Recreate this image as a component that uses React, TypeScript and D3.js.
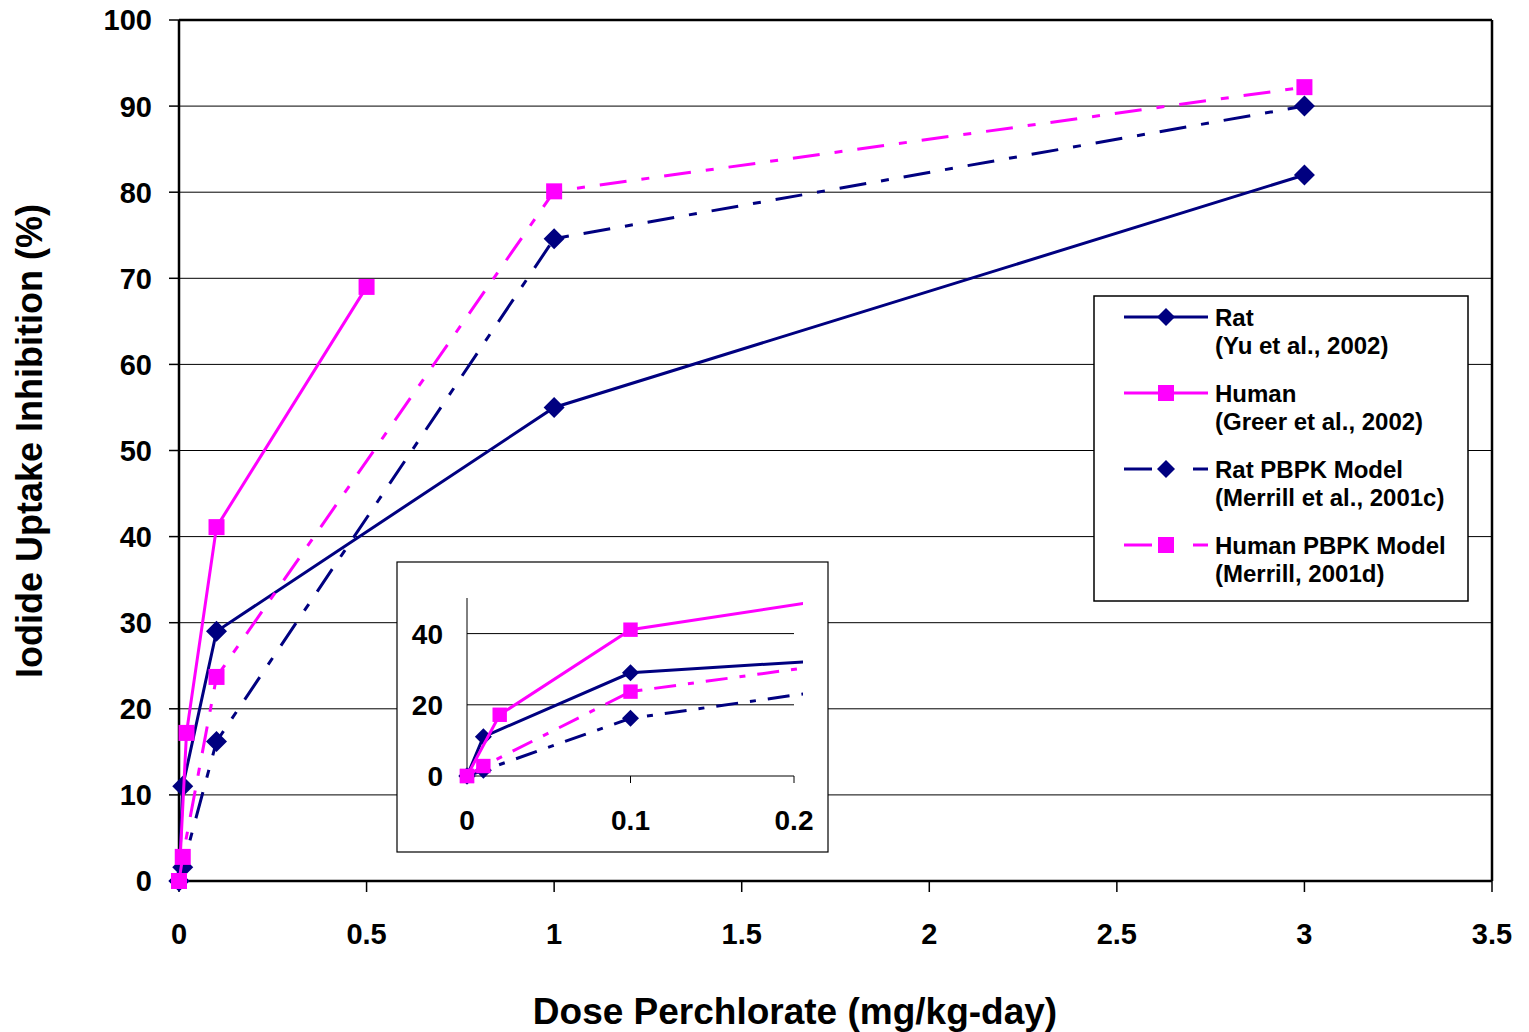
import React from "react";
import * as d3 from "d3";

const NAVY = "#000080";
const MAGENTA = "#FF00FF";

const ratDose = [0, 0.01, 0.1, 1, 3];
const ratInhib = [0, 11, 29, 55, 82];
const humanDose = [0, 0.02, 0.1, 0.5];
const humanInhib = [0, 17.2, 41.1, 69];
const ratModelDose = [0, 0.01, 0.1, 1, 3];
const ratModelInhib = [0, 1.6, 16.2, 74.6, 90];
const humanModelDose = [0, 0.01, 0.1, 1, 3];
const humanModelInhib = [0, 2.8, 23.7, 80.1, 92.2];

const xTicks = [0, 0.5, 1, 1.5, 2, 2.5, 3, 3.5];
const yTicks = [0, 10, 20, 30, 40, 50, 60, 70, 80, 90, 100];
const insetXTicks = [0, 0.1, 0.2];
const insetYTicks = [0, 20, 40];

const legendTitles = ["Rat", "Human", "Rat PBPK Model", "Human PBPK Model"];
const legendRefs = ["(Yu et al., 2002)", "(Greer et al., 2002)", "(Merrill et al., 2001c)", "(Merrill, 2001d)"];

type Series = { xs: number[]; ys: number[]; color: string; marker: "diamond" | "square"; dashed: boolean };

const series: Series[] = [
  { xs: ratDose, ys: ratInhib, color: NAVY, marker: "diamond", dashed: false },
  { xs: humanDose, ys: humanInhib, color: MAGENTA, marker: "square", dashed: false },
  { xs: ratModelDose, ys: ratModelInhib, color: NAVY, marker: "diamond", dashed: true },
  { xs: humanModelDose, ys: humanModelInhib, color: MAGENTA, marker: "square", dashed: true },
];

const DASH = "27,15,8,15";
const FONT = "'Liberation Sans', Arial, sans-serif";

function Marker({ x, y, kind, color, size }: { x: number; y: number; kind: string; color: string; size: number }) {
  if (kind === "diamond") {
    const s = size / 2;
    return <path d={`M${x},${y - s}L${x + s},${y}L${x},${y + s}L${x - s},${y}Z`} fill={color} />;
  }
  const s = size * 0.4;
  return <rect x={x - s} y={y - s} width={2 * s} height={2 * s} fill={color} />;
}

export default function App() {
  const x = d3.scaleLinear().domain([0, 3.5]).range([179, 1492]);
  const y = d3.scaleLinear().domain([0, 100]).range([881, 20]);

  const ix = d3.scaleLinear().domain([0, 0.2]).range([467, 794]);
  const iy = d3.scaleLinear().domain([0, 50]).range([776, 598]);

  const line = (sx: d3.ScaleLinear<number, number>, sy: d3.ScaleLinear<number, number>) =>
    d3
      .line<[number, number]>()
      .x((d) => sx(d[0]))
      .y((d) => sy(d[1]));

  const mainLine = line(x, y);
  const insetLine = line(ix, iy);

  const legX = 1094, legY = 296, legW = 374, legH = 305;
  const rowY = [317, 393, 469, 545];

  return (
    <svg width={1529} height={1032} style={{ position: "absolute", left: 0, top: 0, background: "#fff" }} fontFamily={FONT}>
      <rect x={0} y={0} width={1529} height={1032} fill="#fff" />
      {/* gridlines */}
      {yTicks.slice(1).map((t) => (
        <line key={t} x1={179} x2={1492} y1={y(t)} y2={y(t)} stroke="#000" strokeWidth={1} />
      ))}
      {/* plot border */}
      <line x1={179} x2={1492} y1={20} y2={20} stroke="#000" strokeWidth={2.5} />
      <line x1={1492} x2={1492} y1={20} y2={881} stroke="#000" strokeWidth={2.5} />
      {/* axes */}
      <line x1={179} x2={179} y1={20} y2={881} stroke="#000" strokeWidth={2.5} />
      <line x1={179} x2={1492} y1={881} y2={881} stroke="#000" strokeWidth={2.5} />
      {yTicks.map((t) => (
        <g key={t}>
          <line x1={169} x2={179} y1={y(t)} y2={y(t)} stroke="#000" strokeWidth={1.5} />
          <text x={152} y={y(t)} dy="0.36em" textAnchor="end" fontSize={29} fontWeight="bold">
            {t}
          </text>
        </g>
      ))}
      {xTicks.map((t) => (
        <g key={t}>
          <line x1={x(t)} x2={x(t)} y1={881} y2={892} stroke="#000" strokeWidth={1.5} />
          <text x={x(t)} y={944} textAnchor="middle" fontSize={29} fontWeight="bold">
            {t}
          </text>
        </g>
      ))}
      <text x={795} y={1024} textAnchor="middle" fontSize={37} fontWeight="bold">
        Dose Perchlorate (mg/kg-day)
      </text>
      <text transform="translate(42,441) rotate(-90)" textAnchor="middle" fontSize={36} fontWeight="bold">
        Iodide Uptake Inhibition (%)
      </text>

      {/* main series */}
      {series.map((s, i) => {
        const pts = s.xs.map((v, j) => [v, s.ys[j]] as [number, number]);
        return (
          <g key={i}>
            <path
              d={mainLine(pts) || ""}
              fill="none"
              stroke={s.color}
              strokeWidth={3}
              strokeDasharray={s.dashed ? DASH : undefined}
            />
            {pts.map((p, j) => (
              <Marker key={j} x={x(p[0])} y={y(p[1])} kind={s.marker} color={s.color} size={s.marker === "diamond" ? 21 : 20} />
            ))}
          </g>
        );
      })}

      {/* legend */}
      <rect x={legX} y={legY} width={legW} height={legH} fill="#fff" stroke="#000" strokeWidth={1.5} />
      {series.map((s, i) => (
        <g key={i}>
          {s.dashed ? (
            <>
              <line x1={1124} x2={1152} y1={rowY[i]} y2={rowY[i]} stroke={s.color} strokeWidth={3} />
              <line x1={1193} x2={1208} y1={rowY[i]} y2={rowY[i]} stroke={s.color} strokeWidth={3} />
            </>
          ) : (
            <line x1={1124} x2={1208} y1={rowY[i]} y2={rowY[i]} stroke={s.color} strokeWidth={3} />
          )}
          <Marker x={1166} y={rowY[i]} kind={s.marker} color={s.color} size={s.marker === "diamond" ? 18 : 20} />
          <text x={1215} y={rowY[i] + 9} fontSize={24} fontWeight="bold">
            {legendTitles[i]}
          </text>
          <text x={1215} y={rowY[i] + 37} fontSize={24} fontWeight="bold">
            {legendRefs[i]}
          </text>
        </g>
      ))}

      {/* inset */}
      <rect x={397} y={562} width={431} height={290} fill="#fff" stroke="#000" strokeWidth={1.2} />
      {insetYTicks.slice(1).map((t) => (
        <line key={t} x1={467} x2={794} y1={iy(t)} y2={iy(t)} stroke="#000" strokeWidth={1} />
      ))}
      <line x1={467} x2={467} y1={598} y2={776} stroke="#000" strokeWidth={1} />
      <line x1={467} x2={794} y1={776} y2={776} stroke="#000" strokeWidth={1} />
      {insetXTicks.map((t) => (
        <g key={t}>
          <line x1={ix(t)} x2={ix(t)} y1={776} y2={783} stroke="#000" strokeWidth={1} />
          <text x={ix(t)} y={830} textAnchor="middle" fontSize={28} fontWeight="bold">
            {t}
          </text>
        </g>
      ))}
      {insetYTicks.map((t) => (
        <text key={t} x={443} y={iy(t)} dy="0.36em" textAnchor="end" fontSize={28} fontWeight="bold">
          {t}
        </text>
      ))}
      <defs>
        <clipPath id="insetClip">
          <rect x={455} y={585} width={348} height={205} />
        </clipPath>
      </defs>
      <g clipPath="url(#insetClip)">
        {series.map((s, i) => {
          const pts = s.xs.map((v, j) => [v, s.ys[j]] as [number, number]);
          return (
            <g key={i}>
              <path
                d={insetLine(pts) || ""}
                fill="none"
                stroke={s.color}
                strokeWidth={3}
                strokeDasharray={s.dashed ? "22,12,6,12" : undefined}
              />
              {pts
                .filter((p) => p[0] <= 0.2)
                .map((p, j) => (
                  <Marker key={j} x={ix(p[0])} y={iy(p[1])} kind={s.marker} color={s.color} size={s.marker === "diamond" ? 17 : 18} />
                ))}
            </g>
          );
        })}
      </g>
    </svg>
  );
}
